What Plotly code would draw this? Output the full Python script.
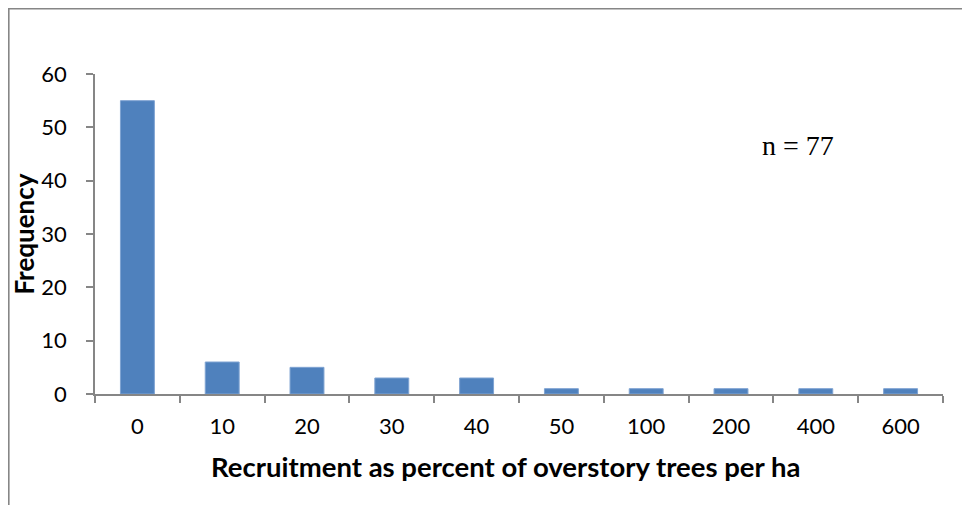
import plotly.graph_objects as go

categories = ["0", "10", "20", "30", "40", "50", "100", "200", "400", "600"]
frequency = [55, 6, 5, 3, 3, 1, 1, 1, 1, 1]
y_ticks = [0, 10, 20, 30, 40, 50, 60]
annotation_text = "n = 77"
x_title = "<b>Recruitment as percent of overstory trees per ha</b>"
y_title = "<b>Frequency</b>"

fig = go.Figure(go.Bar(
    x=categories, y=frequency,
    marker=dict(color="#4F81BD", line=dict(color="#7FA3D2", width=1)),
    width=0.4,
))

axis_color = "#868686"
L, T, PW, PH = 87, 66, 848, 320
fig.update_layout(
    width=962, height=497,
    margin=dict(l=L, r=962 - L - PW, t=T, b=497 - T - PH),
    paper_bgcolor="white", plot_bgcolor="white",
    showlegend=False,
    font=dict(family="Lato, Carlito, sans-serif", color="black"),
    xaxis=dict(
        type="category", range=[-0.5, 9.5],
        showline=True, linecolor=axis_color, linewidth=1.5,
        ticks="outside", tickson="boundaries", ticklen=7, tickcolor=axis_color, tickwidth=1.5,
        tickfont=dict(size=22), ticklabelstandoff=12, showgrid=False, zeroline=False,
    ),
    yaxis=dict(
        range=[0, 60], tickvals=y_ticks,
        showline=True, linecolor=axis_color, linewidth=1.5,
        ticks="outside", ticklen=7, tickcolor=axis_color, tickwidth=1.5,
        tickfont=dict(size=22), ticklabelstandoff=15, showgrid=False, zeroline=False,
        title=dict(text=y_title, font=dict(size=26), standoff=0),
    ),
    shapes=[dict(type="rect", xref="paper", yref="paper",
                 x0=(0.8 - L) / PW, x1=1.05, y0=-0.4, y1=(T + PH - 0.8) / PH,
                 line=dict(color=axis_color, width=1.6), fillcolor="rgba(0,0,0,0)")],
    annotations=[
        dict(text=annotation_text, xref="paper", yref="paper",
             x=0.784, y=0.778, xanchor="left", yanchor="middle", showarrow=False,
             font=dict(family="Liberation Serif, Times New Roman, serif", size=28)),
        dict(text=x_title, xref="paper", yref="paper",
             x=0.4835, y=-0.228, xanchor="center", yanchor="middle", showarrow=False,
             font=dict(size=27.5)),
    ],
)

fig.write_html("out.html")
